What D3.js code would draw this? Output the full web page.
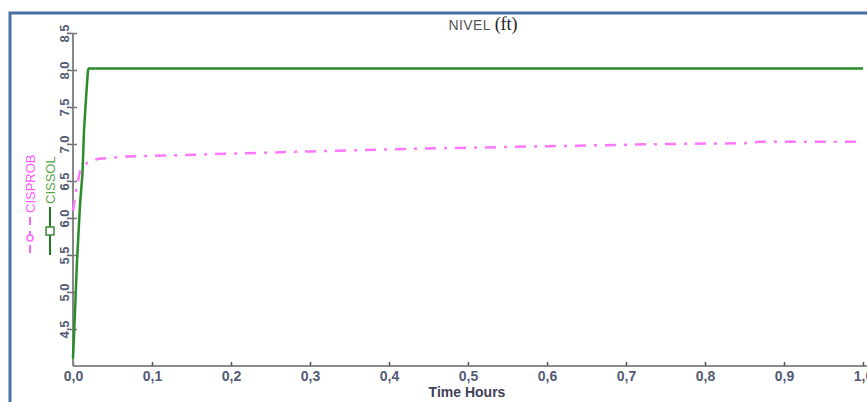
<!DOCTYPE html>
<html>
<head>
<meta charset="utf-8">
<script src="https://cdn.jsdelivr.net/npm/d3@7"></script>
<style>
  body { margin: 0; background: #fff; }
  svg { display: block; font-family: "Liberation Sans", Arial, sans-serif; }
</style>
</head>
<body>
<div id="chart"></div>
<script>
// data
const solTime = [0, 0.002, 0.005, 0.009, 0.012, 0.014, 0.017, 0.019, 0.02, 1.0];
const solLevel = [4.1, 4.6, 5.4, 6.2, 6.6, 7.2, 7.7, 8.0, 8.02, 8.02];
const probTime = [0, 0.004, 0.009, 0.018, 0.032, 0.066, 0.14, 0.2, 0.3, 0.45, 0.6, 0.75, 0.85, 0.87, 1.0];
const probLevel = [6.1, 6.37, 6.64, 6.75, 6.8, 6.83, 6.85, 6.87, 6.9, 6.94, 6.97, 7.0, 7.01, 7.03, 7.03];
const xTicks = [0, 0.1, 0.2, 0.3, 0.4, 0.5, 0.6, 0.7, 0.8, 0.9, 1.0];
const yTicks = [4.5, 5.0, 5.5, 6.0, 6.5, 7.0, 7.5, 8.0, 8.5];

const W = 867, H = 402;
const svg = d3.select("#chart").append("svg")
  .attr("width", W)
  .attr("height", H);

// marco azul
svg.append("path")
  .attr("d", `M10,${H + 5} L10,13 L${W + 5},13`)
  .attr("fill", "none")
  .attr("stroke", "#4a6fa5")
  .attr("stroke-width", 3);

const x = d3.scaleLinear().domain([0, 1]).range([73, 863]);
const y = d3.scaleLinear().domain([4.0, 8.5]).range([366, 33]);
const comma = d => d3.format(".1f")(d).replace(".", ",");

// eje X
const gx = svg.append("g")
  .attr("transform", `translate(0,${y(4.0)})`)
  .call(d3.axisBottom(x).tickValues(xTicks).tickFormat(comma).tickSizeInner(-4).tickSizeOuter(0).tickPadding(5));
gx.select(".domain").attr("stroke", "#666").attr("stroke-width", 1.5).attr("d", `M${x(0)},0H${W + 5}`);
gx.selectAll(".tick line").attr("stroke", "#555").attr("stroke-width", 1.5);
gx.selectAll(".tick text")
  .attr("fill", "#545a74")
  .style("font-size", "14px")
  .style("font-weight", "bold")
  .style("font-family", "Liberation Sans, Arial, sans-serif");

// eje Y
const gy = svg.append("g")
  .attr("transform", `translate(${x(0)},0)`)
  .call(d3.axisLeft(y).tickValues(yTicks).tickFormat(comma).tickSizeInner(3).tickSizeOuter(0));
gy.select(".domain").attr("stroke", "#888").attr("stroke-width", 2).attr("d", `M0,${y(8.5)}V${y(4.0)}`);
gy.selectAll(".tick line").attr("stroke", "#777").attr("stroke-width", 1.5).attr("x2", 4).attr("x1", -3);
gy.selectAll(".tick text").remove();
gy.selectAll(".tick").append("text")
  .attr("transform", "translate(-4,0) rotate(-90)")
  .attr("text-anchor", "middle")
  .attr("fill", "#545a74")
  .style("font-size", "13px")
  .style("font-weight", "bold")
  .style("font-family", "Liberation Sans, Arial, sans-serif")
  .text(d => comma(d));

// series
const line = d3.line().x(d => x(d[0])).y(d => y(d[1]));

svg.append("path")
  .datum(probTime.map((t, i) => [t, probLevel[i]]))
  .attr("fill", "none")
  .attr("stroke", "#ff77ff")
  .attr("stroke-width", 2.5)
  .attr("stroke-dasharray", "11,8,3,8")
  .attr("d", line);

svg.append("path")
  .datum(solTime.map((t, i) => [t, solLevel[i]]))
  .attr("fill", "none")
  .attr("stroke", "#2a8c2a")
  .attr("stroke-width", 2.5)
  .attr("d", line);

// titulo
const title = svg.append("text")
  .attr("x", 483)
  .attr("y", 30)
  .attr("text-anchor", "middle");
title.append("tspan")
  .attr("fill", "#555")
  .style("font-size", "14px")
  .style("letter-spacing", "0.4px")
  .text("NIVEL ");
title.append("tspan")
  .attr("fill", "#222")
  .style("font-family", "Liberation Serif, serif")
  .style("font-size", "18px")
  .text("(ft)");

// titulo eje X
svg.append("text")
  .attr("x", 467)
  .attr("y", 397)
  .attr("text-anchor", "middle")
  .attr("fill", "#3d3f55")
  .style("font-size", "14px")
  .style("font-weight", "bold")
  .text("Time Hours");

// leyenda vertical
const lp = svg.append("g").attr("transform", "translate(30,253) rotate(-90)");
lp.append("line").attr("x1", 0).attr("x2", 36).attr("y1", 0).attr("y2", 0)
  .attr("stroke", "#ff66ff").attr("stroke-width", 2).attr("stroke-dasharray", "8,6,8,6,8");
lp.append("circle").attr("cx", 15).attr("cy", 0).attr("r", 3)
  .attr("fill", "#fff").attr("stroke", "#ff66ff").attr("stroke-width", 1.5);
lp.append("text").attr("x", 40).attr("y", 5)
  .attr("fill", "#ff55ff").style("font-size", "13px").text("CISPROB");

const ls = svg.append("g").attr("transform", "translate(50,255) rotate(-90)");
ls.append("line").attr("x1", 0).attr("x2", 48).attr("y1", 0).attr("y2", 0)
  .attr("stroke", "#1f7a1f").attr("stroke-width", 2);
ls.append("rect").attr("x", 20).attr("y", -4).attr("width", 8).attr("height", 8)
  .attr("fill", "#fff").attr("stroke", "#3a8a3a").attr("stroke-width", 1.5);
ls.append("text").attr("x", 51).attr("y", 5)
  .attr("fill", "#5aa54a").style("font-size", "13px").text("CISSOL");
</script>
</body>
</html>
